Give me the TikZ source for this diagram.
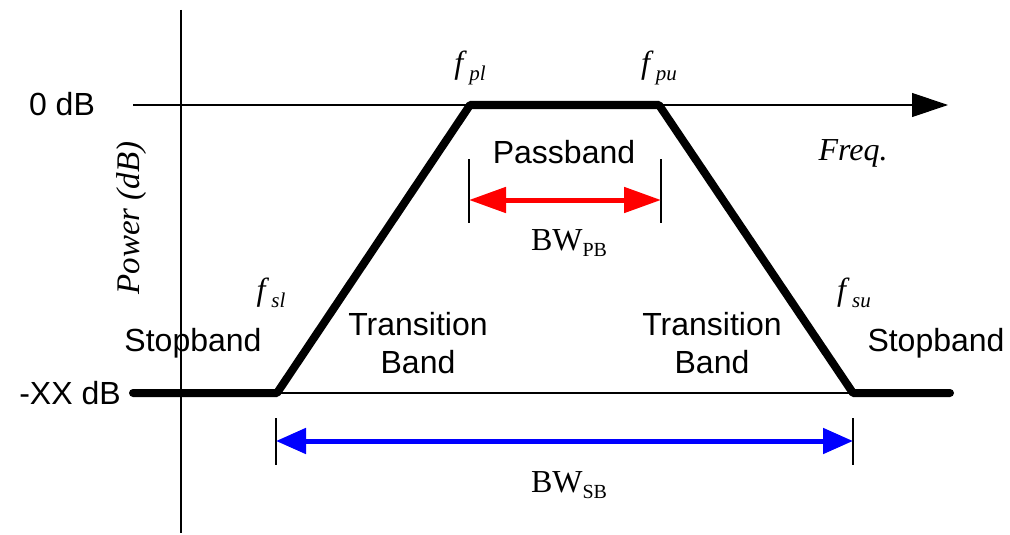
\documentclass[tikz,border=0pt]{standalone}
\usepackage{fontspec}
\setmainfont{Liberation Serif}
\newfontfamily\arialfont{Liberation Sans}
\usetikzlibrary{arrows.meta}
\newcommand{\fsub}[1]{{\itshape f\hspace{6pt}\raisebox{-7pt}{\fontsize{21}{21}\selectfont #1}}}
\newcommand{\bwsub}[1]{BW\raisebox{-6pt}{\fontsize{20}{20}\selectfont #1}}
\begin{document}
\begin{tikzpicture}[x=1pt,y=-1pt,
  sans/.style={font=\arialfont\fontsize{32}{38}\selectfont, inner sep=0pt, align=center},
  serif/.style={font=\fontsize{32}{38}\selectfont, inner sep=0pt},
  axis/.style={line width=1.2pt, black},
  trace/.style={line width=8pt, black, line cap=round, line join=round},
  tick/.style={line width=1.2pt, black},
  redarrow/.style={line width=5pt, red, {Triangle[length=37pt,width=25pt]}-{Triangle[length=37pt,width=25pt]}},
  bluearrow/.style={line width=5pt, blue, {Triangle[length=30pt,width=25pt]}-{Triangle[length=30pt,width=25pt]}}
]
\useasboundingbox (0,0) rectangle (1010,535);
% coordinates
\coordinate (xs) at (133,105);
\coordinate (xe) at (948,105);
\coordinate (ys) at (181,10);
\coordinate (ye) at (181,533);
\coordinate (b0) at (133,393);
\coordinate (b1) at (277,393);
\coordinate (t1) at (470,105);
\coordinate (t2) at (659,105);
\coordinate (b2) at (853,393);
\coordinate (b3) at (950,393);
\coordinate (rt1) at (469,159);
\coordinate (rb1) at (469,223);
\coordinate (rt2) at (661,159);
\coordinate (rb2) at (661,223);
\coordinate (ra) at (469,200);
\coordinate (rb) at (661,200);
\coordinate (bt1) at (276,418);
\coordinate (bb1) at (276,465);
\coordinate (bt2) at (853,418);
\coordinate (bb2) at (853,465);
\coordinate (ba) at (276,441);
\coordinate (bb) at (853,441);
% axes
\draw[axis, -{Triangle[length=36pt,width=24pt]}] (xs) -- (xe);
\draw[axis] (ys) -- (ye);
\draw[axis] (b1) -- (b2);
% trace
\draw[trace] (b0) -- (b1) -- (t1) -- (t2) -- (b2) -- (b3);
% passband markers
\draw[tick] (rt1) -- (rb1);
\draw[tick] (rt2) -- (rb2);
\draw[redarrow] (ra) -- (rb);
% stopband markers
\draw[tick] (bt1) -- (bb1);
\draw[tick] (bt2) -- (bb2);
\draw[bluearrow] (ba) -- (bb);
% labels
\node[sans] (l0db) at (62,104) {0 dB};
\node[sans] (lxx) at (70,393) {-XX dB};
\node[sans] (sbl) at (193,343) {Stopband};
\node[sans] (tbl) at (418,343) {Transition\\Band};
\node[sans] (tbr) at (712,343) {Transition\\Band};
\node[sans] (sbr) at (936,343) {Stopband};
\node[sans] (pb) at (564,152) {Passband};
\node[serif, font=\itshape\fontsize{32}{38}\selectfont] (freq) at (853,153) {Freq.};
\node[serif, font=\itshape\fontsize{33}{38}\selectfont, rotate=90] (pow) at (132,218) {Power (dB)};
\node[serif] (bwpb) at (569,243) {\bwsub{PB}};
\node[serif] (bwsb) at (569,485) {\bwsub{SB}};
\node[serif] (fpl) at (470,68) {\fsub{pl}};
\node[serif] (fpu) at (659,68) {\fsub{pu}};
\node[serif] (fsl) at (271,293) {\fsub{sl}};
\node[serif] (fsu) at (854,293) {\fsub{su}};
\end{tikzpicture}
\end{document}
